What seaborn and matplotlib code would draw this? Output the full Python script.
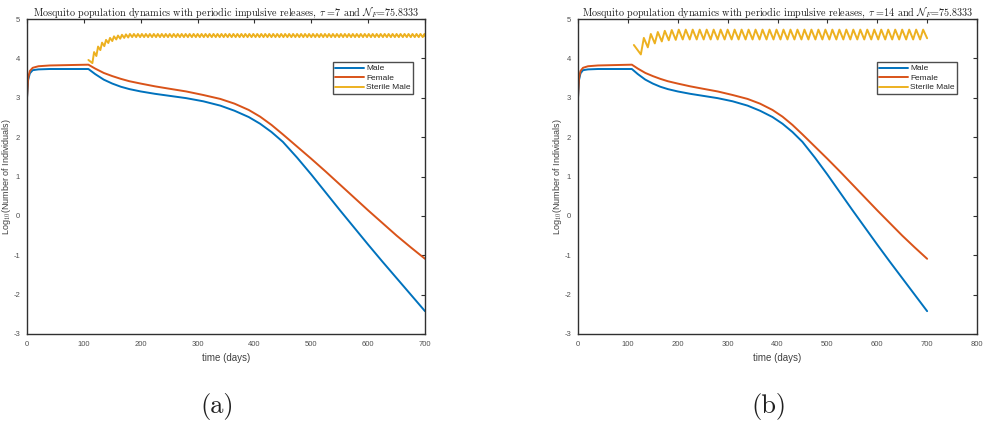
import numpy as np
import pandas as pd
import matplotlib
matplotlib.use("Agg")
import matplotlib.pyplot as plt
import seaborn as sns

# ---------------- data ----------------
days = [0, 2, 5, 10, 20, 40, 108, 120, 135, 150, 165, 180, 200, 225, 250, 280,
        310, 340, 365, 390, 410, 430, 450, 475, 500, 525, 550, 575, 600, 625,
        650, 675, 700]
male = [3.0, 3.45, 3.62, 3.70, 3.72, 3.73, 3.73, 3.60, 3.46, 3.36, 3.28, 3.22,
        3.16, 3.10, 3.05, 2.99, 2.91, 2.80, 2.67, 2.51, 2.34, 2.13, 1.88, 1.48,
        1.05, 0.60, 0.15, -0.29, -0.73, -1.16, -1.58, -2.00, -2.42]
female = [3.0, 3.50, 3.68, 3.76, 3.80, 3.82, 3.84, 3.74, 3.63, 3.55, 3.48, 3.42,
          3.36, 3.29, 3.23, 3.16, 3.07, 2.97, 2.85, 2.69, 2.52, 2.31, 2.07, 1.76,
          1.45, 1.13, 0.80, 0.47, 0.14, -0.18, -0.50, -0.80, -1.09]

# sterile males: release schedule (tau from the titles) and peak / trough levels
tau_a, start_a = 7, 108
peaks_a = [3.96, 4.16, 4.30, 4.40, 4.47, 4.52, 4.56, 4.58, 4.60, 4.61] + [4.62] * 75
troughs_a = [3.88, 4.06, 4.21, 4.31, 4.39, 4.44, 4.48, 4.50, 4.52, 4.53] + [4.54] * 74
end_a = 4.57

tau_b, start_b = 14, 112
peaks_b = [4.34, 4.52, 4.62, 4.67, 4.70, 4.72] + [4.73] * 36
troughs_b = [4.10, 4.28, 4.38, 4.43, 4.46, 4.47] + [4.48] * 35
end_b = 4.51

titles = [r"Mosquito population dynamics with periodic impulsive releases, $\tau$ =7 and $\mathcal{N}_F$=75.8333",
          r"Mosquito population dynamics with periodic impulsive releases, $\tau$ =14 and $\mathcal{N}_F$=75.8333"]
captions = ["(a)", "(b)"]
xticks = [[0, 100, 200, 300, 400, 500, 600, 700],
          [0, 100, 200, 300, 400, 500, 600, 700, 800]]
yticks = [-3, -2, -1, 0, 1, 2, 3, 4, 5]
legend_labels = ["Male", "Female", "Sterile Male"]
colors = ["#0072BD", "#D95319", "#EDB120"]


def sterile_frame(start, tau, peaks, troughs, end, rise):
    releases = [start + k * tau for k in range(len(peaks))]
    xs, ys = [releases[0]], [peaks[0]]
    for k in range(1, len(peaks)):
        xs.append(releases[k]); ys.append(troughs[k - 1])
        xs.append(releases[k] + rise); ys.append(peaks[k])
    xs.append(700); ys.append(end)
    return pd.DataFrame({"t": xs, "v": ys})


sns.set_theme(style="white")
plt.rcParams["font.family"] = ["Liberation Sans", "DejaVu Sans"]
plt.rcParams["mathtext.fontset"] = "cm"
plt.rcParams["axes.unicode_minus"] = False

fig = plt.figure(figsize=(9.84, 4.22), dpi=100)
W, H = 984, 422
boxes = [(27, 425), (578, 977)]
top, bot = 19, 334

pop = pd.DataFrame({"t": days, "Male": male, "Female": female})
sterile = [sterile_frame(start_a, tau_a, peaks_a, troughs_a, end_a, 3),
           sterile_frame(start_b, tau_b, peaks_b, troughs_b, end_b, 6)]
xlims = [700, 800]
leg_anchor = [(0.970, 0.863), (0.950, 0.863)]
cap_x = [217, 769]

for i in range(2):
    x0, x1 = boxes[i]
    ax = fig.add_axes([x0 / W, 1 - bot / H, (x1 - x0) / W, (bot - top) / H])
    sns.lineplot(data=pop, x="t", y="Male", ax=ax, color=colors[0], lw=1.4,
                 label=legend_labels[0], estimator=None, sort=False)
    sns.lineplot(data=pop, x="t", y="Female", ax=ax, color=colors[1], lw=1.4,
                 label=legend_labels[1], estimator=None, sort=False)
    sns.lineplot(data=sterile[i], x="t", y="v", ax=ax, color=colors[2], lw=1.4,
                 label=legend_labels[2], estimator=None, sort=False)
    ax.set_xlim(0, xlims[i])
    ax.set_ylim(-3, 5)
    ax.set_xticks(xticks[i])
    ax.set_yticks(yticks)
    ax.tick_params(direction="in", top=True, right=True, length=3, width=0.8,
                   labelsize=5.5, labelcolor="#505050", color="#303030", pad=5)
    for s in ax.spines.values():
        s.set_visible(True)
        s.set_color("#303030")
        s.set_linewidth(1.0)
    ax.set_xlabel("time (days)", fontsize=7, color="#404040")
    ax.set_ylabel(r"Log$_{10}$(Number of Individuals)", fontsize=6.5, color="#404040")
    ax.xaxis.set_label_coords(0.5, -0.060)
    ax.yaxis.set_label_coords(-0.036, 0.5)
    ax.set_title(titles[i], fontsize=7.3, family="cmr10", pad=2.5, color="#202020")
    leg = ax.legend(loc="upper right", bbox_to_anchor=leg_anchor[i], fontsize=6,
                    frameon=True, fancybox=False, edgecolor="#202020",
                    handlelength=3.4, handletextpad=0.3, borderpad=0.3,
                    labelspacing=0.2, borderaxespad=0)
    leg.get_frame().set_linewidth(1.0)
    fig.text(cap_x[i] / W, 1 - 407 / H, captions[i], family="cmr10", fontsize=19,
             ha="center", va="center", color="#202020")

fig.savefig("out.png", dpi=100)
